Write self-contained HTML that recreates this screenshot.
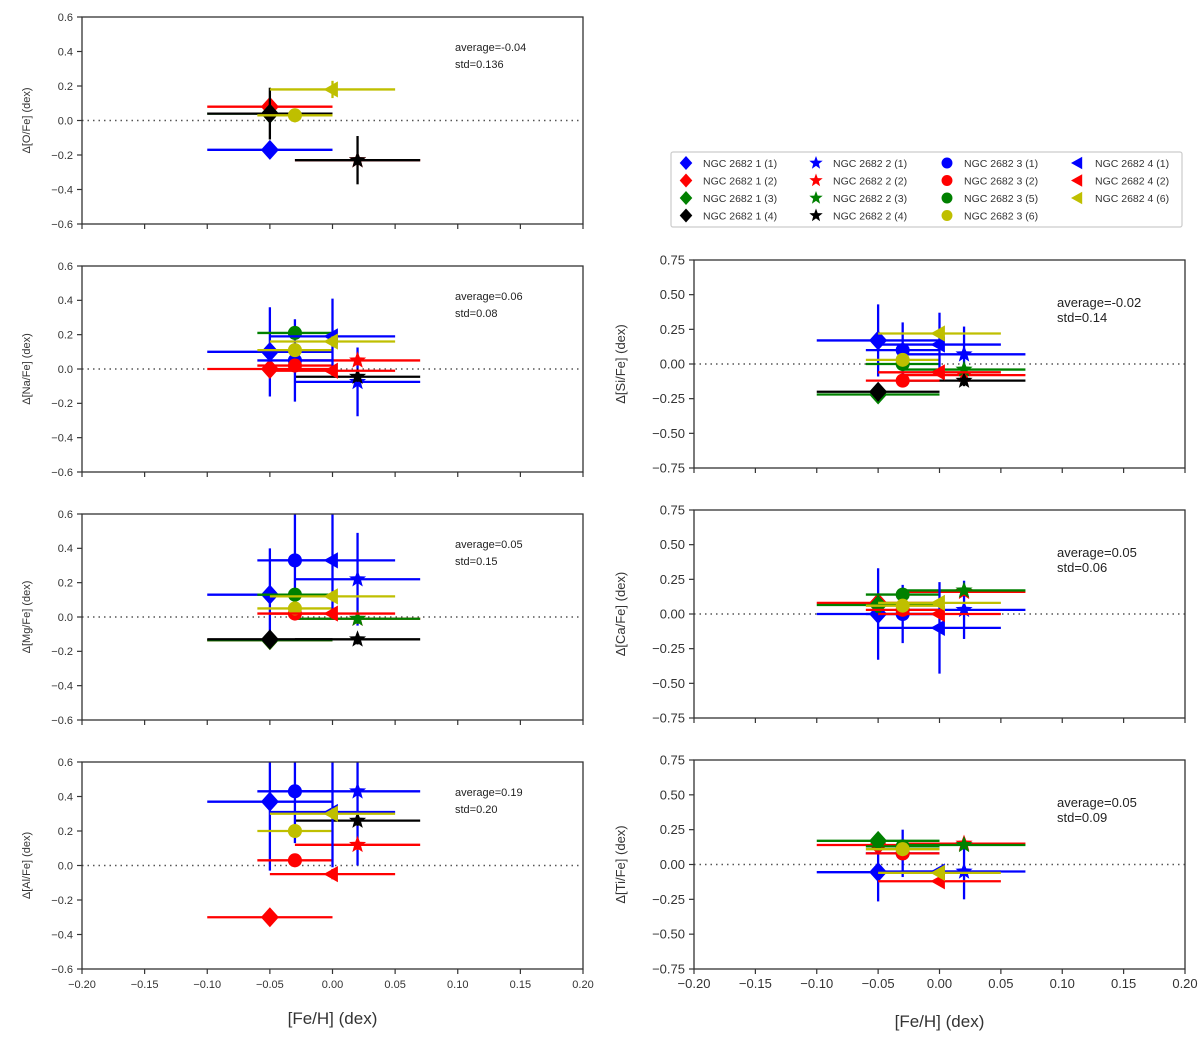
<!DOCTYPE html>
<html><head><meta charset="utf-8"><style>
body{margin:0;background:#fff;}
svg{display:block;font-family:"Liberation Sans","DejaVu Sans",sans-serif;}
</style></head><body>
<svg id="fig" width="1200" height="1038" viewBox="0 0 1200 1038" xmlns="http://www.w3.org/2000/svg"></svg>
<script>
// ---- series definitions ----
const seriesNames = ["NGC 2682 1 (1)","NGC 2682 1 (2)","NGC 2682 1 (3)","NGC 2682 1 (4)",
 "NGC 2682 2 (1)","NGC 2682 2 (2)","NGC 2682 2 (3)","NGC 2682 2 (4)",
 "NGC 2682 3 (1)","NGC 2682 3 (2)","NGC 2682 3 (5)","NGC 2682 3 (6)",
 "NGC 2682 4 (1)","NGC 2682 4 (2)","NGC 2682 4 (6)"];
const seriesColors = ["#0000ff","#ff0000","#008000","#000000","#0000ff","#ff0000","#008000","#000000","#0000ff","#ff0000","#008000","#bfbf00","#0000ff","#ff0000","#bfbf00"];
const seriesMarkers = ["D","D","D","D","*","*","*","*","o","o","o","o","<","<","<"];
const seriesFeH = [-0.05,-0.05,-0.05,-0.05,0.02,0.02,0.02,0.02,-0.03,-0.03,-0.03,-0.03,0.0,0.0,0.0];
const seriesFeHErrLo = [0.05,0.05,0.05,0.05,0.05,0.05,0.05,0.05,0.03,0.03,0.03,0.03,0.05,0.05,0.05];
const seriesFeHErrHi = [0.05,0.05,0.05,0.05,0.05,0.05,0.05,0.05,0.03,0.03,0.03,0.03,0.05,0.05,0.05];
// ---- per-panel values (null = absent) ----
const oVals  = [-0.17,0.08,0.04,0.04, null,-0.23,null,-0.23, null,null,null,0.03, null,null,0.18];
const oErrs  = [0.05,0.03,0.03,0.15, 0,0.03,0,0.14, 0,0,0,0.04, 0,0,0.05];
const naVals = [0.10,0.0,null,null, -0.075,0.05,null,-0.045, 0.05,0.02,0.21,0.11, 0.19,-0.01,0.16];
const naErrs = [0.26,0.03,0,0, 0.2,0.03,0,0.03, 0.24,0.03,0.03,0.03, 0.22,0.03,0.03];
const mgVals = [0.13,-0.135,-0.135,-0.13, 0.22,-0.01,-0.01,-0.13, 0.33,0.02,0.13,0.05, 0.33,0.02,0.12];
const mgErrs = [0.27,0.03,0.03,0.03, 0.27,0.03,0.03,0.03, 0.35,0.03,0.03,0.03, 0.33,0.03,0.03];
const alVals = [0.37,-0.30,null,null, 0.43,0.12,null,0.26, 0.43,0.03,null,0.2, 0.31,-0.05,0.3];
const alErrs = [0.4,0.03,0,0, 0.43,0.03,0,0.03, 0.3,0.03,0,0.03, 0.32,0.03,0.03];
const siVals = [0.17,null,-0.22,-0.2, 0.07,-0.08,-0.04,-0.12, 0.1,-0.12,0.0,0.03, 0.14,-0.06,0.22];
const siErrs = [0.26,0,0.04,0.03, 0.2,0.03,0.03,0.04, 0.2,0.03,0.03,0.03, 0.23,0.03,0.03];
const caVals = [0.0,0.08,0.065,null, 0.03,0.16,0.17,null, 0.0,0.03,0.14,0.06, -0.1,0.0,0.08];
const caErrs = [0.33,0.03,0.03,0, 0.21,0.03,0.03,0, 0.21,0.03,0.03,0.03, 0.33,0.03,0.03];
const tiVals = [-0.055,0.14,0.17,null, -0.05,0.15,0.14,null, 0.08,0.08,0.13,0.11, -0.05,-0.12,-0.06];
const tiErrs = [0.21,0.03,0.03,0, 0.2,0.03,0.03,0, 0.17,0.03,0.03,0.03, 0.03,0.03,0.03];
const leftYTicks = [-0.6,-0.4,-0.2,0.0,0.2,0.4,0.6];
const leftYTickLabels = ["\u22120.6","\u22120.4","\u22120.2","0.0","0.2","0.4","0.6"];
const rightYTicks = [-0.75,-0.5,-0.25,0,0.25,0.5,0.75];
const rightYTickLabels = ["\u22120.75","\u22120.50","\u22120.25","0.00","0.25","0.50","0.75"];
const xTicks = [-0.2,-0.15,-0.1,-0.05,0,0.05,0.1,0.15,0.2];
const xTickLabels = ["\u22120.20","\u22120.15","\u22120.10","\u22120.05","0.00","0.05","0.10","0.15","0.20"];

const NS="http://www.w3.org/2000/svg";
const svg=document.getElementById('fig');
function mk(tag,attrs,parent){const e=document.createElementNS(NS,tag);for(const k in attrs)e.setAttribute(k,attrs[k]);(parent||svg).appendChild(e);return e;}

function marker(g,type,cx,cy,color,s){
  let e;
  if(type==="D"){e=mk('polygon',{points:`${cx},${cy-s} ${cx+s*0.9},${cy} ${cx},${cy+s} ${cx-s*0.9},${cy}`,fill:color},g);}
  else if(type==="o"){e=mk('circle',{cx:cx,cy:cy,r:s*0.78,fill:color},g);}
  else if(type==="<"){e=mk('polygon',{points:`${cx-s},${cy} ${cx+s*0.6},${cy-s*0.9} ${cx+s*0.6},${cy+s*0.9}`,fill:color},g);}
  else {let p=[];for(let i=0;i<10;i++){const r=i%2?s*0.42:s;const a=-Math.PI/2+i*Math.PI/5;p.push((cx+r*Math.cos(a)).toFixed(1)+','+(cy+r*Math.sin(a)).toFixed(1));}
    e=mk('polygon',{points:p.join(' '),fill:color},g);}
  return e;
}

const panels=[
 {id:'o',label:'\u0394[O/Fe] (dex)',vals:oVals,errs:oErrs,side:'L',top:17,bot:224,stat:['average=-0.04','std=0.136'],last:false},
 {id:'na',label:'\u0394[Na/Fe] (dex)',vals:naVals,errs:naErrs,side:'L',top:266,bot:472,stat:['average=0.06','std=0.08'],last:false},
 {id:'mg',label:'\u0394[Mg/Fe] (dex)',vals:mgVals,errs:mgErrs,side:'L',top:514,bot:720,stat:['average=0.05','std=0.15'],last:false},
 {id:'al',label:'\u0394[Al/Fe] (dex)',vals:alVals,errs:alErrs,side:'L',top:762,bot:969,stat:['average=0.19','std=0.20'],last:true},
 {id:'si',label:'\u0394[Si/Fe] (dex)',vals:siVals,errs:siErrs,side:'R',top:260,bot:468,stat:['average=-0.02','std=0.14'],last:false},
 {id:'ca',label:'\u0394[Ca/Fe] (dex)',vals:caVals,errs:caErrs,side:'R',top:510,bot:718,stat:['average=0.05','std=0.06'],last:false},
 {id:'ti',label:'\u0394[Ti/Fe] (dex)',vals:tiVals,errs:tiErrs,side:'R',top:760,bot:969,stat:['average=0.05','std=0.09'],last:true}
];

panels.forEach(P=>{
  const L=P.side==='L';
  const x0=L?82:694, x1=L?583:1185;
  const ymax=L?0.6:0.75;
  const fs=L?11:13;
  const X=v=>x0+(v+0.2)/0.4*(x1-x0);
  const Y=v=>P.bot-(v+ymax)/(2*ymax)*(P.bot-P.top);
  const g=mk('g',{});
  
  
  const clipId='clip-'+P.id;
  const cp=mk('clipPath',{id:clipId},g); mk('rect',{x:x0,y:P.top,width:x1-x0,height:P.bot-P.top},cp);
  const z=mk('line',{x1:x0,x2:x1,y1:Y(0),y2:Y(0),stroke:'#555','stroke-width':1.6,'stroke-dasharray':'1.5,4'},g);
  
  
  const dg=mk('g',{'clip-path':`url(#${clipId})`},g);
  for(let i=0;i<seriesNames.length;i++){
    const v=P.vals[i]; if(v===null) continue;
    const c=seriesColors[i], cx=X(seriesFeH[i]), cy=Y(v);
    const sg=mk('g',{},dg);
    
    
    mk('line',{x1:X(seriesFeH[i]-seriesFeHErrLo[i]),x2:X(seriesFeH[i]+seriesFeHErrHi[i]),y1:cy,y2:cy,stroke:c,'stroke-width':2.3},sg);
    mk('line',{x1:cx,x2:cx,y1:Y(v-P.errs[i]),y2:Y(v+P.errs[i]),stroke:c,'stroke-width':2.3},sg);
    const m=seriesMarkers[i];
    marker(sg,m,cx,cy,c,m==='D'?10:m==='*'?9:m==='o'?9:9);
  }
  const fr=mk('rect',{x:x0,y:P.top,width:x1-x0,height:P.bot-P.top,fill:'none',stroke:'#333','stroke-width':1.3},g);
  
  
  const yt=L?leftYTicks:rightYTicks, ytl=L?leftYTickLabels:rightYTickLabels;
  yt.forEach((t,k)=>{
    mk('line',{x1:x0-5,x2:x0,y1:Y(t),y2:Y(t),stroke:'#333','stroke-width':1.2},g);
    const tx=mk('text',{x:x0-9,y:Y(t)+fs*0.35,'text-anchor':'end','font-size':fs,fill:'#333'},g);
    tx.textContent=ytl[k];
    
    
  });
  xTicks.forEach((t,k)=>{
    mk('line',{x1:X(t),x2:X(t),y1:P.bot,y2:P.bot+5,stroke:'#333','stroke-width':1.2},g);
    if(P.last){
      const tx=mk('text',{x:X(t),y:P.bot+19,'text-anchor':'middle','font-size':fs,fill:'#333'},g);
      tx.textContent=xTickLabels[k];
      
      
    }
  });
  const lx=L?30:625, ly=(P.top+P.bot)/2;
  const yl=mk('text',{x:lx,y:ly,'text-anchor':'middle','font-size':fs,fill:'#333',transform:`rotate(-90 ${lx} ${ly})`},g);
  yl.textContent=P.label;
  
  
  const sx=L?455:1057, sy=L?P.top+34:P.top+47;
  P.stat.forEach((s,k)=>{
    const st=mk('text',{x:sx,y:sy+k*(L?17:15),'font-size':fs,fill:'#222'},g);
    st.textContent=s;
    
    
  });
  if(P.last){
    const xl=mk('text',{x:(x0+x1)/2,y:L?1024:1027,'text-anchor':'middle','font-size':17,fill:'#333'},g);
    xl.textContent='[Fe/H] (dex)';
    
    
  }
});

const lg=mk('g',{});


mk('rect',{x:671,y:152,width:511,height:75,fill:'#fff',stroke:'#ccc','stroke-width':1.2,rx:2},lg);
const colX=[686,816,947,1078];
const rowCounts=[4,4,4,3];
let idx=0;
for(let c=0;c<4;c++){
  for(let r=0;r<rowCounts[c];r++){
    const cy=163+r*17.5;
    const eg=mk('g',{},lg);
    
    
    marker(eg,seriesMarkers[idx],colX[c],cy,seriesColors[idx],7);
    const t=mk('text',{x:colX[c]+17,y:cy+4,'font-size':10.5,fill:'#333'},eg);
    t.textContent=seriesNames[idx];
    idx++;
  }
}
</script>
</body></html>
